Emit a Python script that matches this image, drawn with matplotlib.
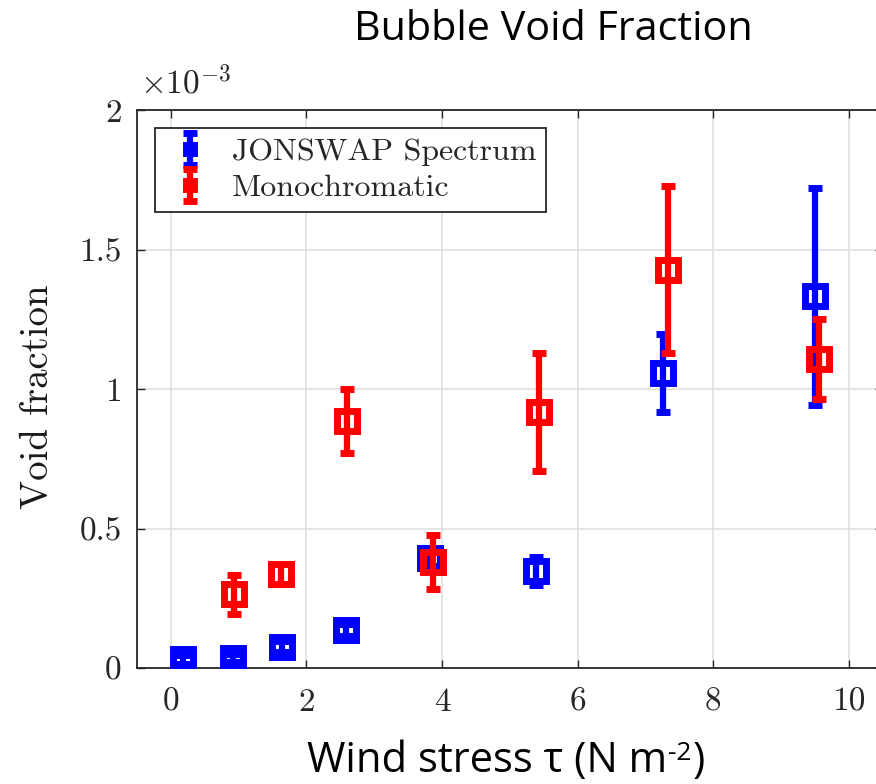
import matplotlib
matplotlib.use('Agg')
import matplotlib.pyplot as plt

# wind stress (N m^-2) and void fraction (x 1e-3) with error half-widths
tau_jonswap = [0.18, 0.92, 1.64, 2.58, 3.82, 5.38, 7.26, 9.51]
void_jonswap = [0.032, 0.036, 0.077, 0.137, 0.395, 0.350, 1.057, 1.332]
err_jonswap = [0.015, 0.015, 0.02, 0.02, 0.03, 0.05, 0.14, 0.39]

tau_mono = [0.93, 1.63, 2.60, 3.86, 5.43, 7.33, 9.56]
void_mono = [0.265, 0.338, 0.886, 0.382, 0.918, 1.428, 1.109]
err_mono = [0.07, 0.035, 0.113, 0.097, 0.21, 0.30, 0.143]

x_ticks = [0, 2, 4, 6, 8, 10]
y_ticks = [0, 0.5, 1, 1.5, 2]

plt.rcParams['font.family'] = 'cmr10'
plt.rcParams['mathtext.fontset'] = 'cm'
plt.rcParams['axes.unicode_minus'] = False

W, H = 876, 784
fig = plt.figure(figsize=(W / 100, H / 100), dpi=100)
ax = fig.add_axes([137 / W, 1 - 668.3 / H, 745.6 / W, 558.3 / H])

ebkw = dict(fmt='s', markersize=15, markeredgewidth=5, markerfacecolor='none',
            elinewidth=4.5, capsize=4.8, capthick=3.6)
h1 = ax.errorbar(tau_jonswap, void_jonswap, yerr=err_jonswap, color='#0000ff',
                 label='JONSWAP Spectrum', zorder=3, **ebkw)
h2 = ax.errorbar(tau_mono, void_mono, yerr=err_mono, color='#ff0000',
                 label='Monochromatic', zorder=4, **ebkw)

ax.set_xlim(-0.5, 10.5)
ax.set_ylim(0, 2)
ax.set_xticks(x_ticks)
ax.set_yticks(y_ticks)
ax.set_xticklabels([f'{v:g}' for v in x_ticks])
ax.set_yticklabels([f'{v:g}' for v in y_ticks])
ax.tick_params(direction='in', length=6, width=1, colors='#262626',
               labelsize=24, top=True, right=True)
ax.tick_params(axis='x', pad=14)
ax.tick_params(axis='y', pad=11)
ax.grid(True, color='#dedede', linewidth=1.1)
ax.set_axisbelow(True)
for s in ax.spines.values():
    s.set_color('#262626')
    s.set_linewidth(1.3)

fig.text(140 / W, 1 - 94 / H, r'$\times10^{-3}$', fontsize=24, color='#262626',
         ha='left', va='baseline')

leg = ax.legend(handles=[h1, h2], loc='upper left',
                bbox_to_anchor=(155 / W, 1 - 128 / H), bbox_transform=fig.transFigure,
                borderaxespad=0, fontsize=23, markerscale=0.35, handlelength=1.6,
                handletextpad=0.5, borderpad=0.3, labelspacing=0.25,
                fancybox=False, framealpha=1, edgecolor='#262626')
leg.get_frame().set_linewidth(1.3)
for t in leg.get_texts():
    t.set_color('#262626')

fig.text(38 / W, 1 - 397 / H, 'Void fraction', fontsize=28, rotation=90,
         ha='center', va='center', color='#1a1a1a')

sans = ['Open Sans', 'DejaVu Sans']
fig.text(553.5 / W, 1 - 40 / H, 'Bubble Void Fraction', family=sans,
         fontsize=29.8, ha='center', va='baseline', color='black')

# x label: "(N m^-2)" with a plain-text superscript in the same sans face
base_y = 1 - 772 / H
xl = fig.text(306.7 / W, base_y, 'Wind stress \u03c4 (N m', family=sans,
              fontsize=30, ha='left', va='baseline', color='black')
sup = ax.annotate('-2', xy=(1, 1), xycoords=xl, xytext=(1, -1),
                  textcoords='offset points', family=sans, fontsize=19,
                  ha='left', va='top', color='black', annotation_clip=False)
ax.annotate(')', xy=(1, base_y), xycoords=(sup, 'figure fraction'), xytext=(1, 0),
            textcoords='offset points', family=sans, fontsize=30,
            ha='left', va='baseline', color='black', annotation_clip=False)

fig.savefig('out.png', dpi=100)
